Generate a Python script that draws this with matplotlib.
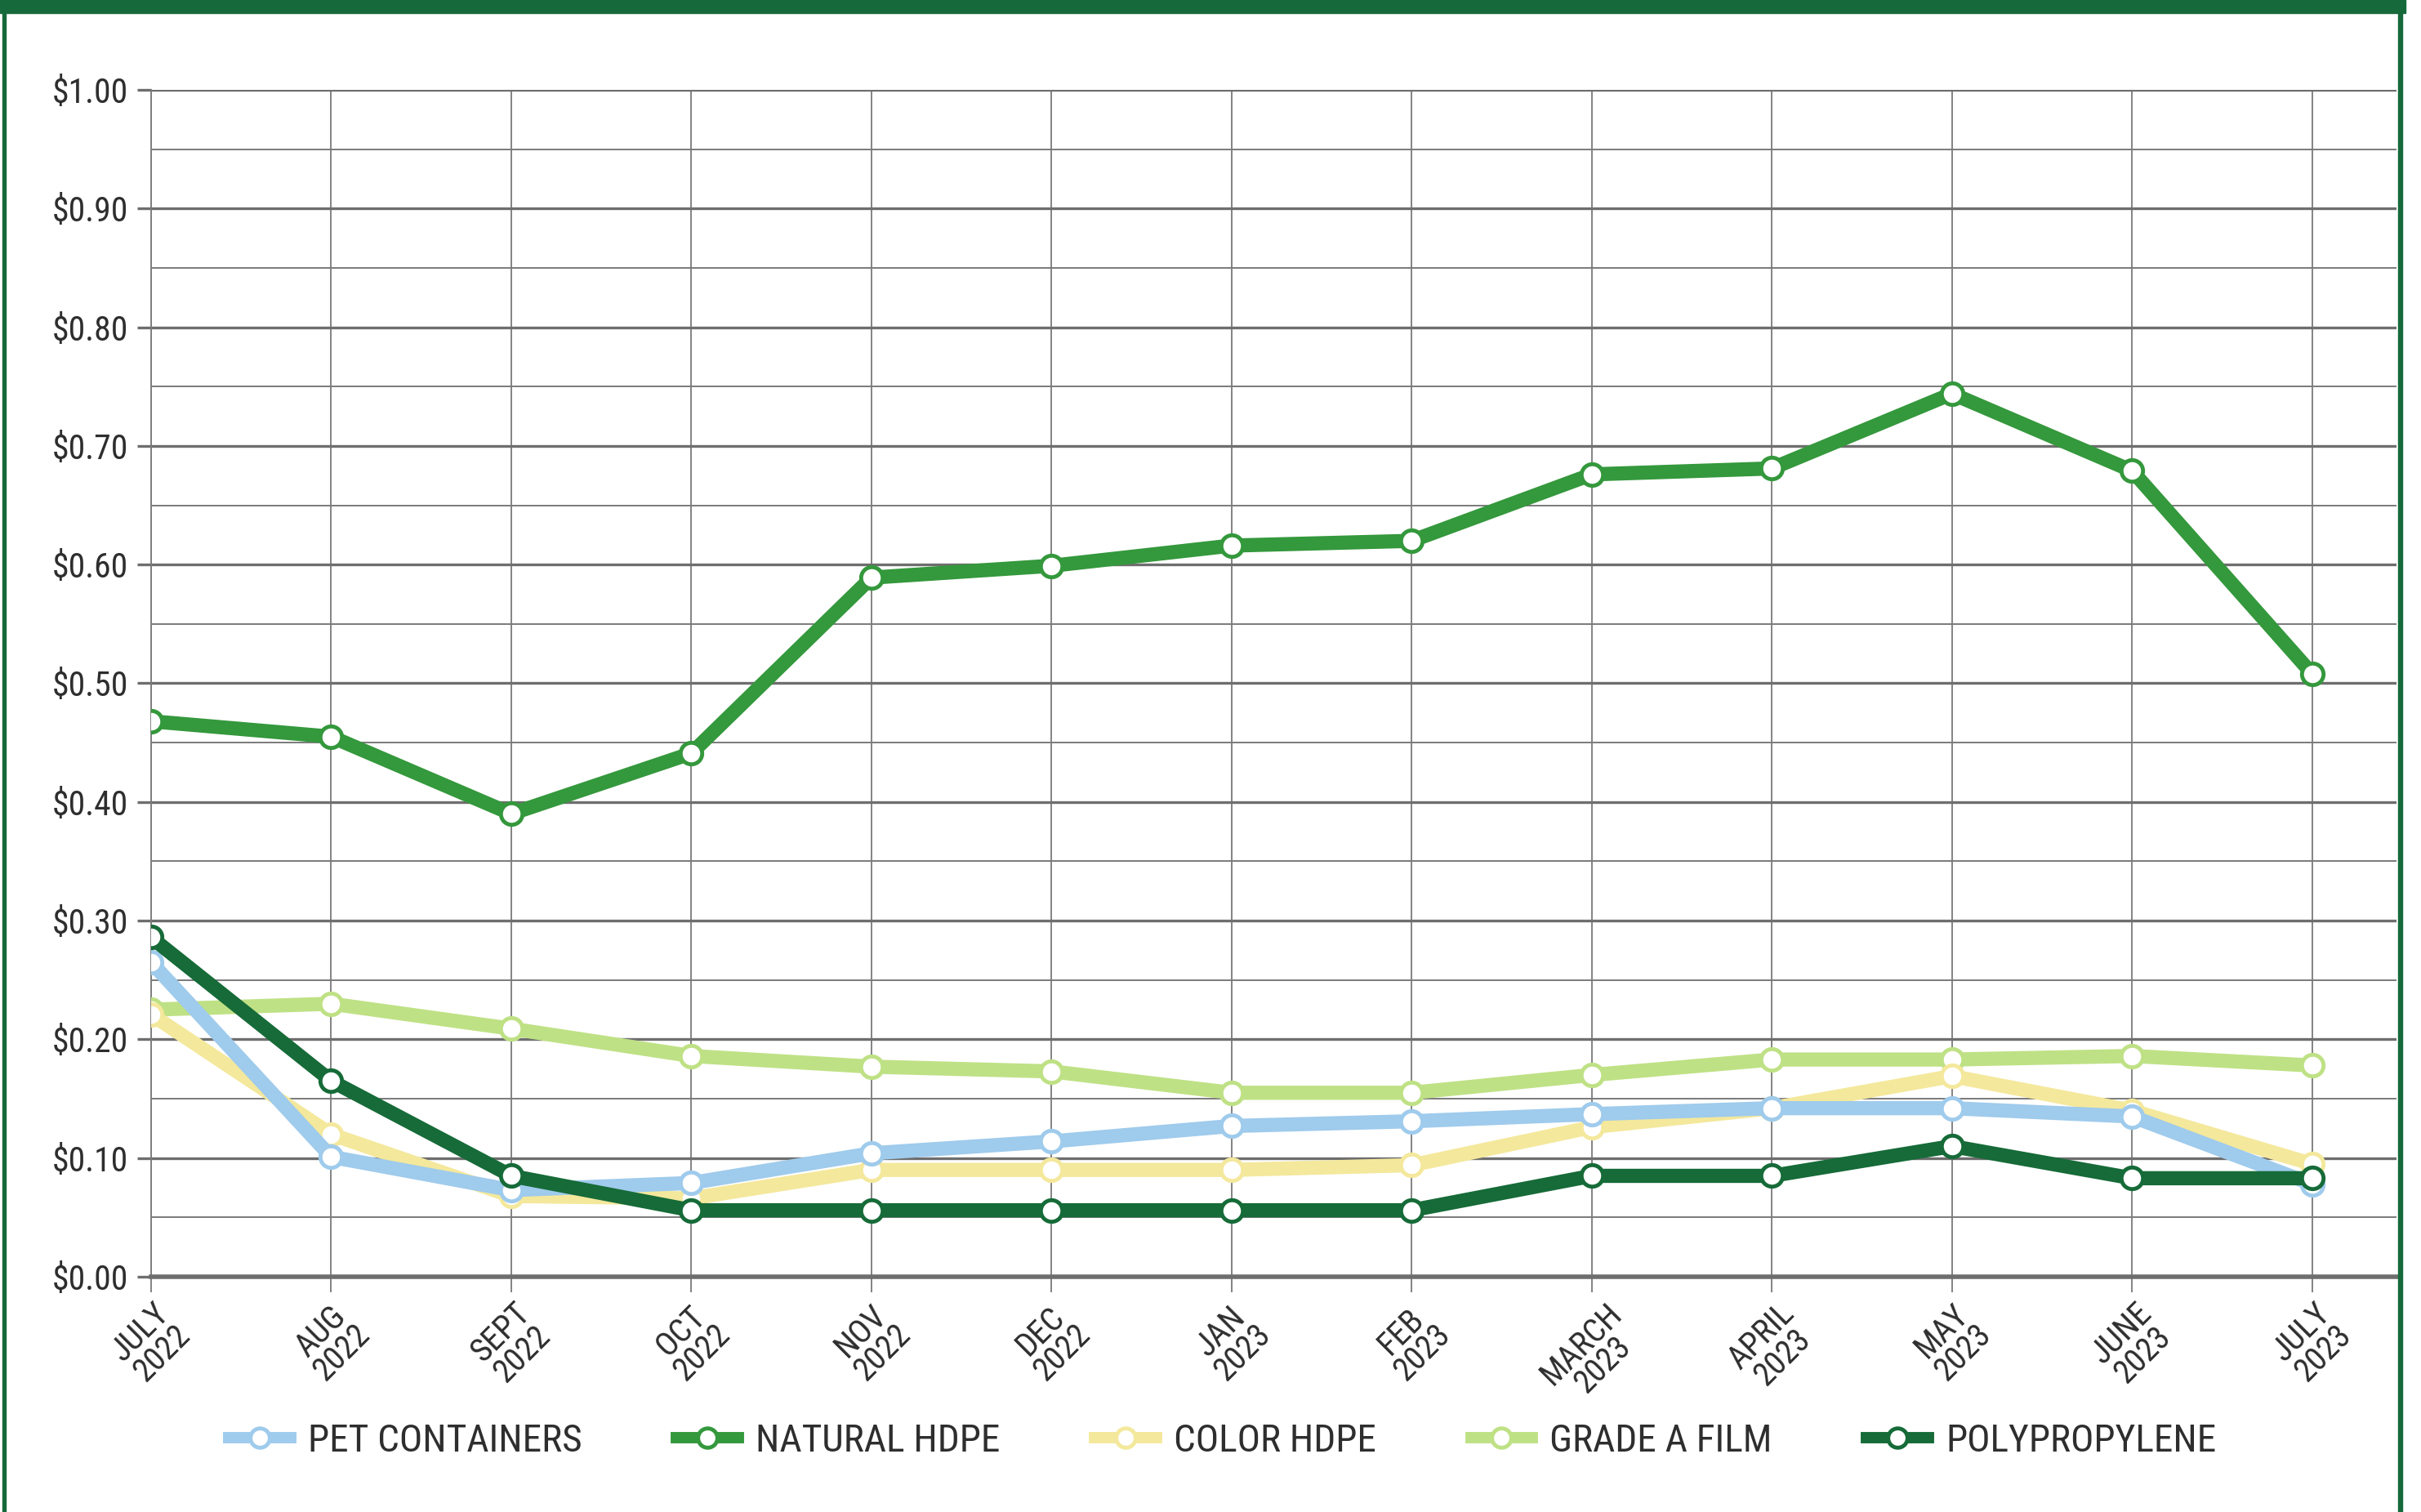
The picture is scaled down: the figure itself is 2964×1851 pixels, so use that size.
import matplotlib.pyplot as plt
from matplotlib.patches import Rectangle
from matplotlib.lines import Line2D
from matplotlib.ticker import MultipleLocator, FuncFormatter

plt.rcParams['font.family'] = ['Roboto Condensed', 'IBM Plex Sans Condensed', 'DejaVu Sans']

# month labels along the x axis
months = ["JULY\n2022", "AUG\n2022", "SEPT\n2022", "OCT\n2022", "NOV\n2022",
          "DEC\n2022", "JAN\n2023", "FEB\n2023", "MARCH\n2023", "APRIL\n2023",
          "MAY\n2023", "JUNE\n2023", "JULY\n2023"]

# price per pound
pet_containers = [0.265, 0.101, 0.073, 0.079, 0.104, 0.114, 0.127, 0.131,
                  0.137, 0.142, 0.142, 0.135, 0.078]
natural_hdpe = [0.468, 0.455, 0.390, 0.441, 0.589, 0.599, 0.616, 0.620,
                0.676, 0.681, 0.744, 0.679, 0.508]
color_hdpe = [0.221, 0.120, 0.068, 0.066, 0.090, 0.090, 0.090, 0.094,
              0.126, 0.142, 0.169, 0.140, 0.095]
grade_a_film = [0.225, 0.230, 0.209, 0.186, 0.177, 0.173, 0.155, 0.155,
                0.170, 0.183, 0.183, 0.186, 0.178]
polypropylene = [0.286, 0.165, 0.085, 0.056, 0.056, 0.056, 0.056, 0.056,
                 0.085, 0.085, 0.110, 0.083, 0.083]

series = [
    ("PET CONTAINERS", pet_containers, "#9fcbec"),
    ("NATURAL HDPE", natural_hdpe, "#34983c"),
    ("COLOR HDPE", color_hdpe, "#f4e89c"),
    ("GRADE A FILM", grade_a_film, "#bfe185"),
    ("POLYPROPYLENE", polypropylene, "#166b38"),
]

frame_green = "#16693a"
text_col = "#2e2e2e"

fig = plt.figure(figsize=(29.64, 18.51), dpi=100)
ax = fig.add_axes([0.0624, 0.1556, 0.990 - 0.0624, 0.9406 - 0.1556])

x = list(range(len(months)))
# film and colour hdpe underneath, then PET, PP, natural hdpe on top
for z, i in enumerate([3, 2, 0, 4, 1]):
    name, vals, col = series[i]
    ax.plot(x, vals, color=col, lw=12.5, marker='o', markersize=19,
            markerfacecolor='white', markeredgecolor=col, markeredgewidth=3.5,
            solid_joinstyle='miter', zorder=3 + z, label=name)

ax.set_xlim(0, 12.47)
ax.set_ylim(0, 1.0)
ax.yaxis.set_major_locator(MultipleLocator(0.1))
ax.yaxis.set_minor_locator(MultipleLocator(0.05))
ax.yaxis.set_major_formatter(FuncFormatter(lambda v, p: "${:.2f}".format(v)))
ax.set_xticks(x)
ax.set_xticklabels(months, rotation=45, ha='center', va='top', ma='center',
                   fontsize=29, linespacing=0.92, color=text_col)
ax.tick_params(axis='y', which='major', length=12, width=2.4, color="#6e6e6e",
               labelsize=30, labelcolor=text_col, pad=8)
ax.tick_params(axis='y', which='minor', length=0)
ax.tick_params(axis='x', length=14, width=1.3, color="#7a7a7a", pad=4)

ax.grid(True, axis='y', which='major', color="#6e6e6e", lw=2.4)
ax.grid(True, axis='y', which='minor', color="#7a7a7a", lw=1.4)
ax.grid(True, axis='x', which='major', color="#7a7a7a", lw=1.3)
ax.set_axisbelow(True)

for s in ['top', 'right']:
    ax.spines[s].set_visible(False)
ax.spines['left'].set_color("#7a7a7a")
ax.spines['left'].set_linewidth(1.3)
ax.spines['bottom'].set_color("#6e6e6e")
ax.spines['bottom'].set_linewidth(4)

# legend in original order
handles = [Line2D([0], [0], color=c, lw=10, marker='o', markersize=17,
                  markerfacecolor='white', markeredgecolor=c, markeredgewidth=3.5)
           for _, _, c in series]
fig.legend(handles, [s[0] for s in series], loc='center', ncol=5,
           bbox_to_anchor=(0.505, 0.047), frameon=False, fontsize=34,
           handlelength=1.6, columnspacing=2.45, handletextpad=0.45,
           labelcolor=text_col)

# green page frame
fig.patches.append(Rectangle((0, 1 - 16 / 1851), 0.9935, 16 / 1851,
                             transform=fig.transFigure, color=frame_green, zorder=0))
fig.patches.append(Rectangle((3 / 2964, 0), 4 / 2964, 1,
                             transform=fig.transFigure, color=frame_green, zorder=0))
fig.patches.append(Rectangle((2936 / 2964, 0), 5 / 2964, 1,
                             transform=fig.transFigure, color=frame_green, zorder=0))

fig.savefig("out.png", dpi=100, facecolor='white')
